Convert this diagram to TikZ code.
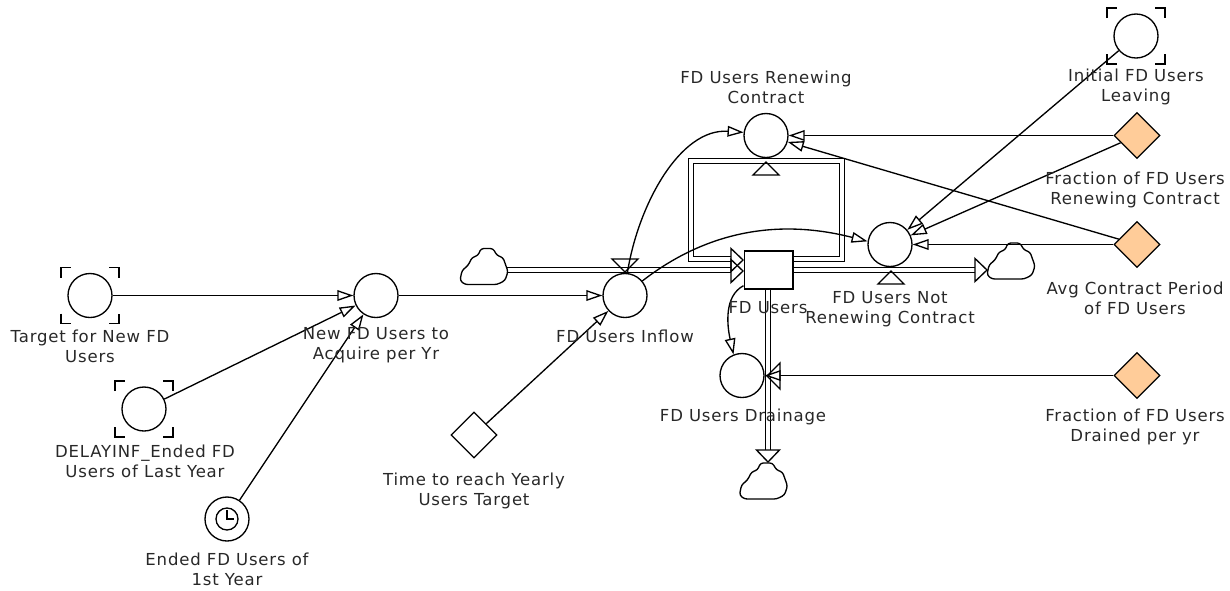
\documentclass[tikz,border=0pt]{standalone}
\usepackage{fontspec}
\setmainfont[LetterSpace=5]{DejaVu Sans}
\usetikzlibrary{arrows.meta,shapes.geometric}
\definecolor{figP}{RGB}{255,204,153}
\definecolor{figT}{RGB}{40,40,40}
\tikzset{
  aux/.style={circle,draw,fill=white,line width=1pt,minimum size=33pt,inner sep=0pt},
  const/.style={diamond,draw,fill=figP,line width=1pt,minimum width=34.5pt,minimum height=34.5pt,inner sep=0pt,aspect=1},
  stockbox/.style={rectangle,draw,fill=white,line width=1pt,minimum width=36.5pt,minimum height=28.5pt,inner sep=0pt},
  lbl/.style={font=\fontsize{12.4}{15}\selectfont,text=figT,align=center,inner sep=0pt},
  conn/.style={draw,line width=1pt,-{Triangle[open,fill=white,length=12pt,width=8pt]}},
  pipe/.style={double=white,double distance=2.3pt,line width=0.9pt,miter limit=10},
  valve/.pic={\draw[line width=1pt] (0,0)--(-13,13)--(-13,-13)--cycle;},
  pipehead/.pic={\draw[line width=1pt] (0,0)--(-12,11.5)--(-12,-11.5)--cycle;},
  ghostmarks/.pic={\draw[line width=1pt] (-29,-18)--(-29,-28)--(-19,-28) (19,-28)--(29,-28)--(29,-18)
    (-29,18)--(-29,28)--(-19,28) (19,28)--(29,28)--(29,18);},
  fdcloud/.pic={\draw[line width=1pt,fill=white,rounded corners=2pt] (-24,14)--(-22,4)--(-16,-1)--(-12,-9)--(-6,-11)
    --(-3,-18)--(9,-18)--(13,-11)--(19,-9)--(24,5)--(21,14)--(13,18)--(-19,18)--cycle;}
}
\begin{document}
\begin{tikzpicture}[x=0.75pt,y=-0.75pt]
\useasboundingbox (0,0) rectangle (1230,590);
% stock and its pipes
\coordinate (srcL) at (507,270);
\coordinate (inHead) at (731,270);
\coordinate (outHead) at (975,270);
\coordinate (dnHead) at (768,450);
\coordinate (loopSE) at (842,259);
\coordinate (loopNE) at (842,161);
\coordinate (loopNW) at (691,161);
\coordinate (loopSW) at (691,259);
\coordinate (loopEnd) at (731,259);
\node[stockbox] (stock) at (768.5,270) {};
\draw[pipe] (srcL)--(inHead);
\draw[pipe] (stock.east|-loopSE)--(loopSE)--(loopNE)--(loopNW)--(loopSW)--(loopEnd);
\draw[pipe] (stock.east|-outHead)--(outHead);
\draw[pipe] (stock.south-|dnHead)--(dnHead);
% clouds
\pic at (484,266.5) {fdcloud};
\pic at (1011,261) {fdcloud};
\pic at (763.5,481) {fdcloud};
% converters
\node[aux] (target) at (90,295.5) {};
\node[aux] (delayinf) at (144,409) {};
\node[aux] (ended) at (227,519) {};
\node[aux] (newUsers) at (376,295.5) {};
\node[aux] (inflow) at (625,295.5) {};
\node[aux] (renewing) at (766,135.5) {};
\node[aux] (notRenewing) at (890,244.5) {};
\node[aux] (drainage) at (742,375.5) {};
\node[aux] (initial) at (1136,36) {};
\node[const] (fracRenew) at (1137,135.5) {};
\node[const] (avgPeriod) at (1137,244.5) {};
\node[const] (fracDrain) at (1137,375.5) {};
\node[const,fill=white] (timeTarget) at (474,435) {};
\pic at (target) {ghostmarks};
\pic at (delayinf) {ghostmarks};
\pic at (initial) {ghostmarks};
% clock
\node[circle,draw,line width=1pt,minimum size=16.5pt,inner sep=0pt] (clock) at (ended) {};
\draw[line width=0.8pt] ([yshift=6.5pt]clock.center)--(clock.center)--([xshift=5.5pt]clock.center);
% links
\draw[conn] (target)--(newUsers);
\draw[conn] (delayinf)--(newUsers);
\draw[conn] (ended)--(newUsers);
\draw[conn] (newUsers)--(inflow);
\draw[conn] (timeTarget)--(inflow);
\draw[conn] (inflow.84) .. controls (638,205) and (680,128) .. (renewing.172);
\draw[conn] (inflow.40) .. controls (695,240) and (765,215) .. (notRenewing.172);
\draw[conn] ([yshift=3pt]stock.south west) .. controls (724,296) and (727,325) .. (drainage.112);
\draw[conn] (fracRenew)--(renewing);
\draw[conn] (avgPeriod)--(renewing);
\draw[conn] (initial)--(notRenewing);
\draw[conn] (fracRenew)--(notRenewing);
\draw[conn] (avgPeriod)--(notRenewing);
\draw[conn] (fracDrain)--(drainage);
% flow valves and pipe heads
\pic[rotate=-90] at (625,272) {valve};
\pic[rotate=90] at (766,162) {valve};
\pic[rotate=90] at (891,271) {valve};
\pic[rotate=180] at (767,376) {valve};
\pic at (743,260) {pipehead};
\pic at (743,271) {pipehead};
\pic at (987,270) {pipehead};
\pic[rotate=-90] at (768,462) {pipehead};
% labels
\node[lbl] (lblTarget) at (90,346) {Target for New FD\\Users};
\node[lbl] (lblDelay) at (145,461) {DELAYINF\_Ended FD\\Users of Last Year};
\node[lbl] (lblEnded) at (227,569) {Ended FD Users of\\1st Year};
\node[lbl] (lblNew) at (376,345) {New FD Users to\\Acquire per Yr};
\node[lbl] (lblInflow) at (625,336) {FD Users Inflow};
\node[lbl] (lblTime) at (474,491) {Time to reach Yearly\\Users Target};
\node[lbl] (lblRenewing) at (766,87) {FD Users Renewing\\Contract};
\node[lbl] (lblInitial) at (1136,87) {Initial FD Users\\Leaving};
\node[lbl] (lblFracRenew) at (1135,190) {Fraction of FD Users\\Renewing Contract};
\node[lbl] (lblAvg) at (1135,298) {Avg Contract Period\\of FD Users};
\node[lbl] (lblFracDrain) at (1135,427) {Fraction of FD Users\\Drained per yr};
\node[lbl] (lblStock) at (768,308) {FD Users};
\node[lbl] (lblNot) at (890,309) {FD Users Not\\Renewing Contract};
\node[lbl] (lblDrain) at (743,417) {FD Users Drainage};
\end{tikzpicture}
\end{document}
